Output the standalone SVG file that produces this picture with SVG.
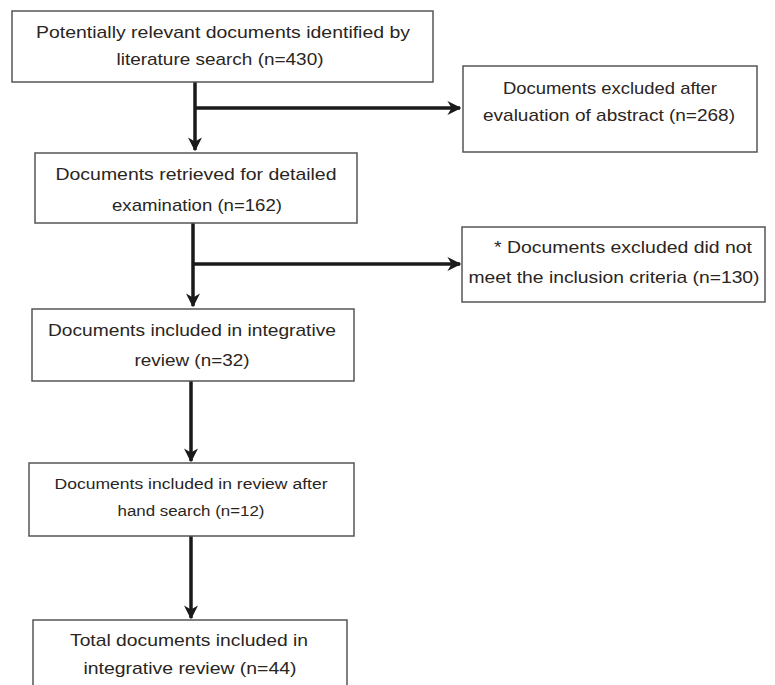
<svg xmlns="http://www.w3.org/2000/svg" width="775" height="685" viewBox="0 0 775 685">
<defs>
<marker id="ah" viewBox="0 0 10 10" refX="9" refY="5" markerWidth="4" markerHeight="4" orient="auto" markerUnits="strokeWidth">
<path d="M0,0 L10,5 L0,10 L3,5 z" fill="#1a1a1a"/>
</marker>
<style>
.box{fill:#fff;stroke:#555;stroke-width:1.5}
.t{font-family:"Liberation Sans",Arial,sans-serif;font-size:17px;fill:#2a2522;text-anchor:middle}
.s{font-size:15.5px}
.c{stroke:#1a1a1a;stroke-width:3.5;fill:none}
</style>
</defs>
<rect width="775" height="685" fill="#fff"/>
<g id="connectors">
<line class="c" x1="195" y1="82" x2="195" y2="150" marker-end="url(#ah)"/>
<line class="c" x1="195" y1="108" x2="460" y2="108" marker-end="url(#ah)"/>
<line class="c" x1="193" y1="223" x2="193" y2="306" marker-end="url(#ah)"/>
<line class="c" x1="193" y1="264" x2="460" y2="264" marker-end="url(#ah)"/>
<line class="c" x1="191" y1="381" x2="191" y2="461" marker-end="url(#ah)"/>
<line class="c" x1="191" y1="536" x2="191" y2="618" marker-end="url(#ah)"/>
</g>
<g id="n1">
<rect class="box" x="12" y="11" width="421" height="71"/>
<text class="t" x="223" y="38" textLength="374" lengthAdjust="spacingAndGlyphs">Potentially relevant documents identified by</text>
<text class="t" x="220" y="65" textLength="207" lengthAdjust="spacingAndGlyphs">literature search (n=430)</text>
</g>
<g id="n2">
<rect class="box" x="463" y="66" width="294" height="86"/>
<text class="t" x="610" y="94" textLength="214" lengthAdjust="spacingAndGlyphs">Documents excluded after</text>
<text class="t" x="609" y="121" textLength="252" lengthAdjust="spacingAndGlyphs">evaluation of abstract (n=268)</text>
</g>
<g id="n3">
<rect class="box" x="35" y="153" width="322" height="70"/>
<text class="t" x="196" y="180" textLength="281" lengthAdjust="spacingAndGlyphs">Documents retrieved for detailed</text>
<text class="t" x="197" y="211" textLength="170" lengthAdjust="spacingAndGlyphs">examination (n=162)</text>
</g>
<g id="n4">
<rect class="box" x="462" y="227" width="303" height="75"/>
<text class="t" x="623" y="253" textLength="258" lengthAdjust="spacingAndGlyphs">* Documents excluded did not</text>
<text class="t" x="614" y="283" textLength="291" lengthAdjust="spacingAndGlyphs">meet the inclusion criteria (n=130)</text>
</g>
<g id="n5">
<rect class="box" x="32" y="309" width="322" height="72"/>
<text class="t" x="192" y="336" textLength="288" lengthAdjust="spacingAndGlyphs">Documents included in integrative</text>
<text class="t" x="192" y="366" textLength="115" lengthAdjust="spacingAndGlyphs">review (n=32)</text>
</g>
<g id="n6">
<rect class="box" x="29" y="463" width="325" height="73"/>
<text class="t s" x="191" y="489" textLength="273" lengthAdjust="spacingAndGlyphs">Documents included in review after</text>
<text class="t s" x="191" y="516" textLength="147" lengthAdjust="spacingAndGlyphs">hand search (n=12)</text>
</g>
<g id="n7">
<rect class="box" x="33" y="620" width="314" height="80"/>
<text class="t" x="189" y="646" textLength="238" lengthAdjust="spacingAndGlyphs">Total documents included in</text>
<text class="t" x="190" y="674" textLength="213" lengthAdjust="spacingAndGlyphs">integrative review (n=44)</text>
</g>
</svg>
